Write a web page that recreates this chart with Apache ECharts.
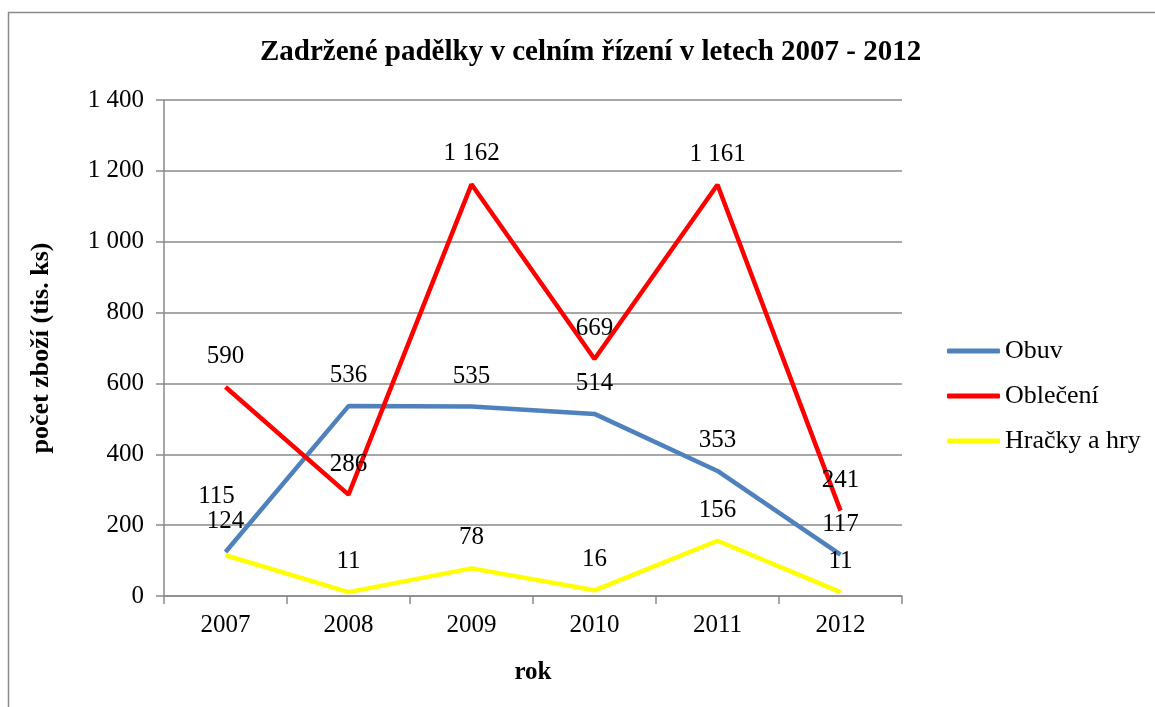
<!DOCTYPE html>
<html>
<head>
<meta charset="utf-8">
<script src="https://cdn.jsdelivr.net/npm/echarts@6/dist/echarts.min.js"></script>
<style>html,body{margin:0;padding:0;background:#fff}#c{width:1155px;height:707px}</style>
</head>
<body>
<div id="c"></div>
<script>
const years = ['2007', '2008', '2009', '2010', '2011', '2012'];
const obuv = [124, 536, 535, 514, 353, 117];
const obleceni = [590, 286, 1162, 669, 1161, 241];
const hracky = [115, 11, 78, 16, 156, 11];
const seriesNames = ['Obuv', 'Oblečení', 'Hračky a hry'];

const FONT = '"Liberation Serif", "Times New Roman", serif';
const fmt = v => String(v).replace(/\B(?=(\d{3})+(?!\d))/g, ' ');

function mkSeries(name, data, color, extraLabel) {
  return {
    name, type: 'line', data: data.map((v, i) => {
      const d = { value: v };
      if (extraLabel && extraLabel[i]) d.label = extraLabel[i];
      return d;
    }),
    showSymbol: true, symbol: 'circle', symbolSize: 0.01,
    lineStyle: { color, width: 4.5 }, itemStyle: { color },
    label: { show: true, position: 'top', distance: 18, color: '#000',
      fontFamily: FONT, fontSize: 25, formatter: p => fmt(p.value) },
    emphasis: { disabled: true }, animation: false
  };
}

const chart = echarts.init(document.getElementById('c'), null, { renderer: 'canvas' });
chart.setOption({
  animation: false,
  graphic: [{ type: 'rect', left: 6, top: 10, shape: { width: 1160, height: 720 },
    style: { fill: 'none', stroke: '#8a8a8a', lineWidth: 1.5 }, silent: true }],
  title: { text: 'Zadržené padělky v celním řízení v letech 2007 - 2012', left: 255,
    top: 33, textStyle: { fontFamily: FONT, fontWeight: 'bold', fontSize: 29, color: '#000' } },
  legend: { orient: 'vertical', left: 942, top: 331, itemGap: 15, itemWidth: 53, itemHeight: 5,
    icon: 'roundRect', data: seriesNames,
    textStyle: { fontFamily: FONT, fontSize: 26, color: '#000', lineHeight: 30 } },
  grid: { left: 164, right: 253, top: 100, bottom: 111, containLabel: false },
  xAxis: { type: 'category', data: years, boundaryGap: true,
    name: 'rok', nameLocation: 'middle', nameGap: 64,
    nameTextStyle: { fontFamily: FONT, fontWeight: 'bold', fontSize: 25, color: '#000' },
    axisLine: { lineStyle: { color: '#8a8a8a', width: 1.5 } },
    axisTick: { show: true, length: 8, inside: false, lineStyle: { color: '#8a8a8a', width: 1.5 } },
    axisLabel: { fontFamily: FONT, fontSize: 25, color: '#000', margin: 17 } },
  yAxis: { type: 'value', min: 0, max: 1400, interval: 200,
    name: 'počet zboží (tis. ks)', nameLocation: 'middle', nameGap: 110, nameRotate: 90,
    nameTextStyle: { fontFamily: FONT, fontWeight: 'bold', fontSize: 26, color: '#000' },
    axisLine: { show: true, lineStyle: { color: '#8a8a8a', width: 1.5 } },
    axisTick: { show: true, length: 8, lineStyle: { color: '#8a8a8a', width: 1.5 } },
    splitLine: { lineStyle: { color: '#8a8a8a', width: 1.5 } },
    axisLabel: { fontFamily: FONT, fontSize: 25, color: '#000', margin: 20, formatter: v => fmt(v) } },
  series: [
    mkSeries(seriesNames[0], obuv, '#4F81BD'),
    mkSeries(seriesNames[1], obleceni, '#FF0000'),
    mkSeries(seriesNames[2], hracky, '#FFFF00', { 0: { offset: [-9, -28] } })
  ]
});
</script>
</body>
</html>
